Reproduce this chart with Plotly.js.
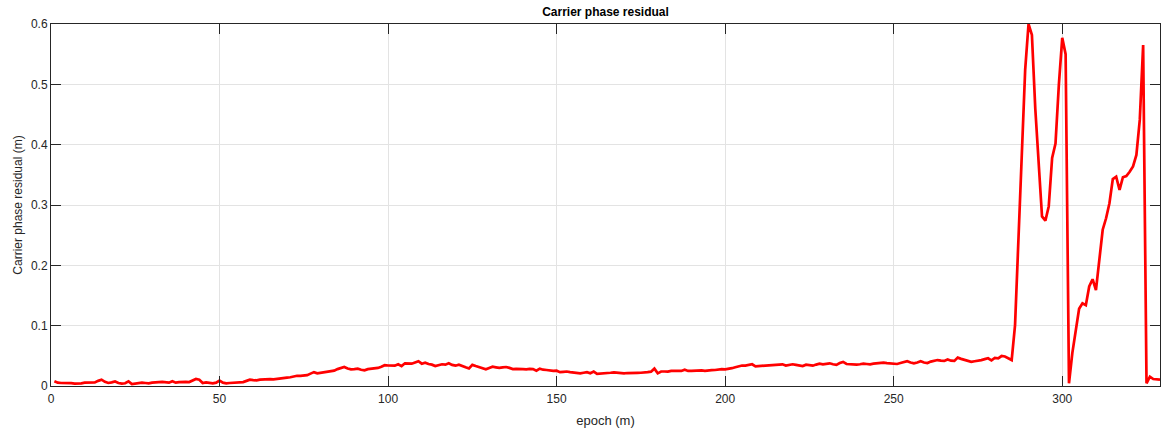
<!DOCTYPE html>
<html>
<head>
<meta charset="utf-8">
<script src="https://cdn.plot.ly/plotly-3.0.1.min.js"></script>
<style>
html,body{margin:0;padding:0;background:#fff;}
#chart{width:1161px;height:429px;}
</style>
</head>
<body>
<div id="chart"></div>
<script>
// Carrier phase residual (m) per epoch, epochs 1..329
const residual = [
0.008,0.0055,0.005,0.0052,0.005,0.0048,0.004,0.0038,0.0045,0.0055,
0.0058,0.0055,0.006,0.0085,0.0105,0.007,0.005,0.006,0.0075,0.005,
0.004,0.0045,0.0077,0.0033,0.004,0.005,0.0055,0.005,0.0045,0.0055,
0.0066,0.0065,0.0068,0.0062,0.0055,0.008,0.0055,0.0065,0.007,0.0068,
0.0065,0.009,0.0116,0.0105,0.005,0.006,0.0048,0.0044,0.0055,0.009,
0.0055,0.0045,0.005,0.0055,0.006,0.007,0.0065,0.0085,0.0105,0.0098,
0.0094,0.0105,0.011,0.012,0.0115,0.011,0.012,0.013,0.0132,0.0138,
0.0145,0.016,0.017,0.0168,0.0175,0.018,0.0205,0.023,0.021,0.022,
0.0225,0.023,0.0245,0.0255,0.028,0.030,0.0315,0.029,0.0275,0.028,
0.0288,0.027,0.026,0.028,0.0288,0.029,0.030,0.032,0.0345,0.034,
0.0335,0.0337,0.036,0.033,0.0376,0.0376,0.037,0.039,0.041,0.037,
0.0387,0.0365,0.0354,0.033,0.034,0.036,0.0354,0.0376,0.035,0.0337,
0.0354,0.0326,0.031,0.029,0.035,0.033,0.031,0.029,0.0277,0.030,
0.032,0.031,0.030,0.031,0.0315,0.030,0.028,0.0285,0.0288,0.028,
0.0277,0.0285,0.028,0.0254,0.0288,0.027,0.0265,0.0255,0.025,0.0254,
0.023,0.0235,0.024,0.023,0.0227,0.022,0.021,0.022,0.023,0.021,
0.0238,0.020,0.0203,0.0205,0.021,0.022,0.0227,0.022,0.0215,0.021,
0.0215,0.022,0.0216,0.0218,0.022,0.022,0.023,0.0238,0.0288,0.021,
0.024,0.024,0.0238,0.025,0.0254,0.025,0.025,0.027,0.025,0.025,
0.0255,0.026,0.0258,0.025,0.025,0.0262,0.0265,0.0275,0.028,0.0277,
0.028,0.0295,0.031,0.0325,0.034,0.0337,0.035,0.036,0.0326,0.033,
0.0332,0.033,0.0335,0.034,0.0345,0.035,0.036,0.034,0.0355,0.036,
0.035,0.034,0.033,0.0354,0.0345,0.0337,0.0355,0.037,0.036,0.037,
0.0376,0.036,0.035,0.038,0.040,0.0365,0.036,0.0358,0.0354,0.036,
0.037,0.0365,0.036,0.037,0.0376,0.038,0.0387,0.038,0.0378,0.037,
0.0365,0.038,0.040,0.041,0.039,0.0376,0.039,0.041,0.039,0.038,
0.0404,0.042,0.043,0.042,0.0415,0.044,0.042,0.0415,0.047,0.045,
0.043,0.041,0.040,0.041,0.0415,0.043,0.0445,0.046,0.0426,0.0465,
0.046,0.0497,0.049,0.046,0.043,0.101,0.25,0.397,0.524,0.600,
0.582,0.46,0.36,0.281,0.274,0.298,0.378,0.402,0.500,0.577,
0.550,0.0045,0.055,0.093,0.128,0.137,0.134,0.165,0.177,0.159,
0.209,0.259,0.278,0.303,0.343,0.347,0.325,0.346,0.348,0.355,
0.364,0.383,0.441,0.565,0.0045,0.0155,0.0115,0.011,0.0105
];
const epochs = residual.map((_, i) => i + 1);

const xTicks = [0, 50, 100, 150, 200, 250, 300];
const yTicks = [0, 0.1, 0.2, 0.3, 0.4, 0.5, 0.6];
const yTickLabels = ['0', '0.1', '0.2', '0.3', '0.4', '0.5', '0.6'];

const titleText = 'Carrier phase residual';
const xTitle = 'epoch (m)';
const yTitle = 'Carrier phase residual (m)';

const fontFam = 'Liberation Sans, Arial, sans-serif';

const axisCommon = {
  showline: true,
  linecolor: '#262626',
  linewidth: 1,
  mirror: 'ticks',
  ticks: 'inside',
  ticklen: 10,
  tickwidth: 1,
  tickcolor: '#262626',
  showgrid: true,
  gridcolor: '#e3e3e3',
  gridwidth: 1,
  zeroline: false,
  tickfont: {family: fontFam, size: 12, color: '#262626'}
};

const trace = {
  x: epochs,
  y: residual,
  type: 'scatter',
  mode: 'lines',
  line: {color: '#ff0000', width: 2.7},
  hoverinfo: 'skip'
};

const layout = {
  width: 1161,
  height: 429,
  margin: {l: 51, r: 1, t: 24, b: 43},
  paper_bgcolor: '#ffffff',
  plot_bgcolor: '#ffffff',
  showlegend: false,
  title: {
    text: '<b>' + titleText + '</b>',
    font: {family: fontFam, size: 12, color: '#000000'},
    x: 0.5, xref: 'paper', xanchor: 'center',
    y: 1 - 12 / 429, yref: 'container', yanchor: 'middle'
  },
  xaxis: Object.assign({}, axisCommon, {
    range: [0, 329],
    tickmode: 'array',
    tickvals: xTicks,
    ticktext: xTicks.map(String),
    ticklabelstandoff: 2,
    title: {text: xTitle, standoff: 10, font: {family: fontFam, size: 13, color: '#262626'}}
  }),
  yaxis: Object.assign({}, axisCommon, {
    range: [0, 0.6],
    tickmode: 'array',
    tickvals: yTicks,
    ticktext: yTickLabels,
    title: {text: yTitle, standoff: 5, font: {family: fontFam, size: 12, color: '#262626'}}
  })
};

Plotly.newPlot('chart', [trace], layout, {displayModeBar: false, staticPlot: true});
</script>
</body>
</html>
